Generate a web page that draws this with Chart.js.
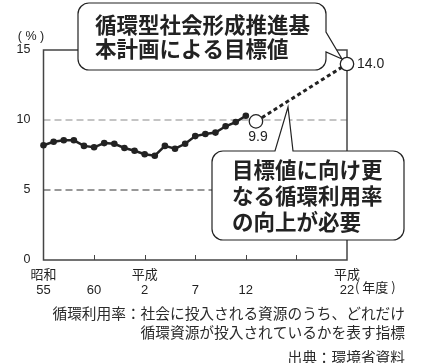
<!DOCTYPE html>
<html lang="ja">
<head>
<meta charset="utf-8" />
<title>循環利用率</title>
<script src="https://cdn.jsdelivr.net/npm/chart.js"></script>
<style>
  html, body { margin: 0; padding: 0; background: #fff; }
  canvas { display: block; }
</style>
</head>
<body>
<canvas id="chart" width="421" height="363"></canvas>
<script>
// 実績 (昭和55〜平成12年度)
const years = [1980, 1981, 1982, 1983, 1984, 1985, 1986, 1987, 1988, 1989, 1990,
               1991, 1992, 1993, 1994, 1995, 1996, 1997, 1998, 1999, 2000];
const rate = [8.2, 8.45, 8.55, 8.55, 8.15, 8.05, 8.35, 8.3, 8.0, 7.8, 7.55,
              7.45, 8.15, 7.95, 8.3, 8.85, 9.0, 9.1, 9.55, 9.85, 10.3];
// 目標に向けた線
const targetYears = [2001, 2010];
const targetRate = [9.9, 14.0];
const targetLabels = ['9.9', '14.0'];
// 目盛
const tickYears = [1980, 1985, 1990, 1995, 2000, 2005, 2010];
const tickEra = ['昭和', '', '平成', '', '', '', '平成'];
const tickNum = ['55', '60', '2', '7', '12', '', '22'];
const yTicks = [0, 5, 10, 15];

const INK = '#222';
const LATIN = "'Liberation Sans', 'Noto Sans CJK JP', sans-serif";
const CJK = "'Noto Sans CJK JP', 'Liberation Sans', sans-serif";

function roundBox(ctx, x0, y0, x1, y1, r, tail) {
    ctx.beginPath();
    ctx.moveTo(x0 + r, y0);
    if (tail && tail.side === 'top') {
        ctx.lineTo(tail.a, y0);
        ctx.lineTo(tail.px, tail.py);
        ctx.lineTo(tail.b, y0);
    }
    ctx.lineTo(x1 - r, y0);
    ctx.arcTo(x1, y0, x1, y0 + r, r);
    if (tail && tail.side === 'right') {
        ctx.lineTo(x1, tail.a);
        ctx.lineTo(tail.px, tail.py);
        ctx.lineTo(x1, tail.b);
    }
    ctx.lineTo(x1, y1 - r);
    ctx.arcTo(x1, y1, x1 - r, y1, r);
    ctx.lineTo(x0 + r, y1);
    ctx.arcTo(x0, y1, x0, y1 - r, r);
    ctx.lineTo(x0, y0 + r);
    ctx.arcTo(x0, y0, x0 + r, y0, r);
    ctx.closePath();
    ctx.fillStyle = '#fff';
    ctx.fill();
    ctx.strokeStyle = INK;
    ctx.lineWidth = 1.2;
    ctx.stroke();
}

const framePlugin = {
    id: 'frame',
    beforeDatasetsDraw(chart) {
        const { ctx, chartArea: a, scales: { x, y } } = chart;
        ctx.save();
        // 補助線
        ctx.setLineDash([7, 4]);
        ctx.lineWidth = 1.2;
        ctx.strokeStyle = '#8a8a8a';
        ctx.beginPath();
        ctx.moveTo(a.left, y.getPixelForValue(10));
        ctx.lineTo(a.right, y.getPixelForValue(10));
        ctx.stroke();
        ctx.strokeStyle = '#333';
        ctx.beginPath();
        ctx.moveTo(a.left, y.getPixelForValue(5));
        ctx.lineTo(a.right, y.getPixelForValue(5));
        ctx.stroke();
        ctx.setLineDash([]);
        // 枠
        ctx.strokeStyle = '#444';
        ctx.lineWidth = 1.5;
        ctx.strokeRect(a.left, a.top, a.right - a.left, a.bottom - a.top);
        // 目盛 (内向き)
        ctx.beginPath();
        tickYears.slice(1, -1).forEach(v => {
            const px = Math.round(x.getPixelForValue(v)) + 0.5;
            ctx.moveTo(px, a.bottom);
            ctx.lineTo(px, a.bottom - 5);
        });
        ctx.lineWidth = 1;
        ctx.stroke();
        ctx.restore();
    },
    afterDraw(chart) {
        const { ctx, chartArea: a, scales: { x, y } } = chart;
        ctx.save();
        ctx.fillStyle = INK;
        ctx.textBaseline = 'middle';

        // 単位
        ctx.font = '12.5px ' + LATIN;
        ctx.textAlign = 'center';
        ctx.fillText('( % )', 31, 37);
        ctx.textAlign = 'left';
        ctx.font = '13px ' + CJK;
        ctx.fillText('( 年度 )', a.right + 8, 287.5);

        // 値ラベル
        ctx.font = '14px ' + LATIN;
        const p0x = x.getPixelForValue(targetYears[0]);
        const p0y = y.getPixelForValue(targetRate[0]);
        ctx.textAlign = 'center';
        ctx.fillText(targetLabels[0], p0x + 2, p0y + 16);
        const p1x = x.getPixelForValue(targetYears[1]);
        const p1y = y.getPixelForValue(targetRate[1]);
        ctx.textAlign = 'left';
        ctx.fillText(targetLabels[1], p1x + 10, p1y);

        // 吹き出し 1
        roundBox(ctx, 78, 3, 326, 70, 11,
            { side: 'right', a: 32, b: 52, px: p1x - 5, py: p1y - 5 });
        ctx.fillStyle = INK;
        ctx.font = 'bold 21.5px ' + CJK;
        ctx.textAlign = 'left';
        ctx.fillText('循環型社会形成推進基', 95, 24.5);
        ctx.fillText('本計画による目標値', 95, 49);

        // 吹き出し 2
        roundBox(ctx, 212, 151, 404, 240, 11,
            { side: 'top', a: 275, b: 293, px: 288, py: 107 });
        ctx.fillStyle = INK;
        ctx.fillText('目標値に向け更', 232, 169.5);
        ctx.fillText('なる循環利用率', 232, 195.5);
        ctx.fillText('の向上が必要', 232, 221.5);

        // 注記
        ctx.fillStyle = '#2a2a2a';
        ctx.font = '14.7px ' + CJK;
        ctx.textAlign = 'right';
        ctx.fillText('循環利用率：社会に投入される資源のうち、どれだけ', 405, 313);
        ctx.fillText('循環資源が投入されているかを表す指標', 405, 332);
        ctx.fillText('出典：環境省資料', 405, 357);
        ctx.restore();
    }
};

new Chart(document.getElementById('chart'), {
    type: 'line',
    data: {
        datasets: [
            {
                data: years.map((v, i) => ({ x: v, y: rate[i] })),
                borderColor: INK,
                borderWidth: 2.5,
                pointRadius: 3.3,
                pointBackgroundColor: INK,
                pointBorderWidth: 0,
                tension: 0
            },
            {
                data: targetYears.map((v, i) => ({ x: v, y: targetRate[i] })),
                borderColor: INK,
                borderWidth: 3,
                borderDash: [4, 3],
                pointRadius: 6.7,
                pointBackgroundColor: '#fff',
                pointBorderColor: INK,
                pointBorderWidth: 1.3,
                tension: 0
            }
        ]
    },
    options: {
        responsive: false,
        animation: false,
        devicePixelRatio: 1,
        clip: false,
        layout: { padding: { left: 0, right: 74, top: 50, bottom: 58 } },
        plugins: { legend: { display: false }, tooltip: { enabled: false } },
        scales: {
            x: {
                type: 'linear',
                min: 1980,
                max: 2010,
                afterBuildTicks: s => { s.ticks = tickYears.map(v => ({ value: v })); },
                afterFit: s => { s.height = 45; },
                grid: { display: false },
                border: { display: false },
                ticks: {
                    autoSkip: false,
                    maxRotation: 0,
                    padding: 0,
                    color: INK,
                    font: { family: LATIN, size: 13, lineHeight: '15px' },
                    callback: v => {
                        const i = tickYears.indexOf(v);
                        return [tickEra[i], tickNum[i]];
                    }
                }
            },
            y: {
                min: 0,
                max: 15,
                afterBuildTicks: s => { s.ticks = yTicks.map(v => ({ value: v })); },
                afterFit: s => { s.width = 43.5; },
                grid: { display: false },
                border: { display: false },
                ticks: {
                    padding: 5,
                    color: INK,
                    font: { family: LATIN, size: 12.5 }
                }
            }
        }
    },
    plugins: [framePlugin]
});
</script>
</body>
</html>
